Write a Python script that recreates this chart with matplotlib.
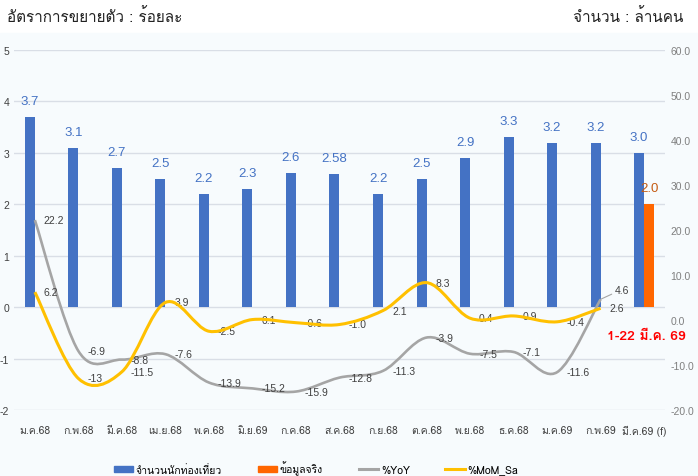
import numpy as np
import matplotlib
matplotlib.use('Agg')
import matplotlib.pyplot as plt
from matplotlib import font_manager
from matplotlib.ft2font import FT2Font
from matplotlib.path import Path
from matplotlib.patches import PathPatch, Patch, Rectangle
from matplotlib.lines import Line2D

# data
months = ['ม.ค.68', 'ก.พ.68', 'มี.ค.68', 'เม.ย.68', 'พ.ค.68', 'มิ.ย.69', 'ก.ค.68', 'ส.ค.68',
          'ก.ย.68', 'ต.ค.68', 'พ.ย.68', 'ธ.ค.68', 'ม.ค.69', 'ก.พ.69', 'มี.ค.69 (f)']
tourists = [3.7, 3.1, 2.7, 2.5, 2.2, 2.3, 2.6, 2.58, 2.2, 2.5, 2.9, 3.3, 3.2, 3.2, 3.0]
tourist_labels = ['3.7', '3.1', '2.7', '2.5', '2.2', '2.3', '2.6', '2.58', '2.2', '2.5',
                  '2.9', '3.3', '3.2', '3.2', '3.0']
actual_month = 'มี.ค.69 (f)'
actual_value = 2.0
actual_label = '2.0'
yoy = [22.2, -6.9, -8.8, -7.6, -13.9, -15.2, -15.9, -12.8, -11.3, -3.9, -7.5, -7.1, -11.6, 4.6]
yoy_labels = ['22.2', '-6.9', '-8.8', '-7.6', '-13.9', '-15.2', '-15.9', '-12.8', '-11.3',
              '-3.9', '-7.5', '-7.1', '-11.6', '4.6']
mom = [6.2, -13, -11.5, 3.9, -2.5, 0.1, -0.6, -1.0, 2.1, 8.3, 0.4, 0.9, -0.4, 2.6]
mom_labels = ['6.2', '-13', '-11.5', '3.9', '-2.5', '0.1', '-0.6', '-1.0', '2.1', '8.3',
              '0.4', '0.9', '-0.4', '2.6']
left_ticks = [-2, -1, 0, 1, 2, 3, 4, 5]
right_ticks = [-20, -10, 0, 10, 20, 30, 40, 50, 60]


def find_thai_font():
    # pick an installed font that has Thai glyphs
    for f in font_manager.fontManager.ttflist:
        if f.weight not in (400, 'normal', 'regular') or f.style != 'normal':
            continue
        try:
            if 0x0E01 in FT2Font(f.fname).get_charmap():
                return f.name
        except Exception:
            pass
    return 'DejaVu Sans'


thai = find_thai_font()
thai_fam = [thai, 'DejaVu Sans']
num_fam = ['Liberation Sans', 'DejaVu Sans']
plt.rcParams['font.family'] = thai_fam


def smooth_path(ys):
    # Bezier curve through the points, like a smoothed office-chart line
    pts = np.column_stack([np.arange(len(ys), dtype=float), np.asarray(ys, dtype=float)])
    n = len(pts)
    verts = [pts[0]]
    codes = [Path.MOVETO]
    for i in range(n - 1):
        p0 = pts[i - 1] if i > 0 else pts[i]
        p1, p2 = pts[i], pts[i + 1]
        p3 = pts[i + 2] if i + 2 < n else pts[i + 1]
        verts += [p1 + (p2 - p0) / 6, p2 - (p3 - p1) / 6, p2]
        codes += [Path.CURVE4] * 3
    return Path(verts, codes)


blue = '#4472C4'
orange = '#FF6600'
grey = '#A5A5A5'
gold = '#FFC000'

fig = plt.figure(figsize=(6.98, 4.77), dpi=100)
fig.patches.append(Rectangle((0, 0), 1, (477 - 34) / 477, transform=fig.transFigure,
                             color='#F7FBFD', zorder=-10))

ax1 = fig.add_axes([14 / 698, 66 / 477, 651 / 698, 360 / 477])
ax1.set_facecolor('none')
x = np.arange(len(months))
w = 0.23

ax1.bar(x - w / 2, tourists, width=w, color=blue, zorder=2)
ai = months.index(actual_month)
ax1.bar(ai + w / 2, actual_value, width=w, color=orange, zorder=2)

for xi, v, s in zip(x, tourists, tourist_labels):
    ax1.annotate(s, (xi - w / 2, v), xytext=(0, 11.5), textcoords='offset points',
                 ha='center', va='center', color=blue, fontsize=9.5, family=num_fam)
ax1.annotate(actual_label, (ai + w / 2, actual_value), xytext=(0, 11.5),
             textcoords='offset points', ha='center', va='center', color='#C55A11',
             fontsize=9.5, family=num_fam)

ax1.set_ylim(-2, 5)
ax1.set_xlim(-0.48, len(months) - 0.52)
ax1.set_yticks(left_ticks)
ax1.set_yticklabels([str(t) for t in left_ticks], family=num_fam)
ax1.grid(axis='y', color='#D9DEE6', linewidth=1, zorder=0)
ax1.set_axisbelow(True)
ax1.set_xticks(x)
ax1.set_xticklabels(months, fontsize=7.5, color='#404040')
ax1.tick_params(axis='x', length=0, pad=11)
ax1.tick_params(axis='y', length=0, pad=3.5, labelsize=7.5, labelcolor='#404040')
for sp in ax1.spines.values():
    sp.set_visible(False)

ax2 = ax1.twinx()
ax2.set_ylim(-20, 60)
ax2.set_yticks(right_ticks)
ax2.set_yticklabels(['%.1f' % t for t in right_ticks], family=num_fam)
ax2.tick_params(axis='y', length=0, pad=4, labelsize=7.5, labelcolor='#7F7F7F')
for sp in ax2.spines.values():
    sp.set_visible(False)

ax2.add_patch(PathPatch(smooth_path(yoy), fill=False, edgecolor=grey, linewidth=1.9,
                        transform=ax2.transData, zorder=3))
ax2.add_patch(PathPatch(smooth_path(mom), fill=False, edgecolor=gold, linewidth=2.2,
                        transform=ax2.transData, zorder=4))

for i, (v, s) in enumerate(zip(yoy, yoy_labels)):
    if i == len(yoy) - 1:
        ax2.annotate(s, (i, v), xytext=(10, 7), textcoords='offset points', ha='left',
                     va='center', fontsize=7.5, color='#404040', family=num_fam,
                     arrowprops=dict(arrowstyle='-', color=grey, lw=0.8,
                                     shrinkA=0, shrinkB=0))
    else:
        ax2.annotate(s, (i, v), xytext=(6.5, 0), textcoords='offset points', ha='left',
                     va='center', fontsize=7.5, color='#404040', family=num_fam)
for i, (v, s) in enumerate(zip(mom, mom_labels)):
    ax2.annotate(s, (i, v), xytext=(6.5, 0), textcoords='offset points', ha='left',
                 va='center', fontsize=7.5, color='#404040', family=num_fam)

# titles and notes
fig.text(7 / 698, 1 - 17 / 477, 'อัตราการขยายตัว : ร้อยละ', fontsize=11, va='center',
         ha='left', color='#222222')
fig.text(683 / 698, 1 - 17 / 477, 'จำนวน : ล้านคน', fontsize=11, va='center',
         ha='right', color='#222222')
fig.text(686 / 698, 1 - 337 / 477, '1-22 มี.ค. 69', fontsize=10, va='center', ha='right',
         color='#FF0000', fontweight='bold')

handles = [Patch(color=blue), Patch(color=orange),
           Line2D([], [], color=grey, linewidth=2.2),
           Line2D([], [], color=gold, linewidth=2.2)]
labels = ['จำนวนนักท่องเที่ยว', 'ข้อมูลจริง', '%YoY', '%MoM_Sa']
fig.legend(handles, labels, loc='center', bbox_to_anchor=(316 / 698, 1 - 469 / 477),
           ncol=4, frameon=False, fontsize=7.5, handlelength=1.9, handleheight=0.6,
           handletextpad=0.25, columnspacing=3.4)

fig.savefig('out.png', dpi=100)
